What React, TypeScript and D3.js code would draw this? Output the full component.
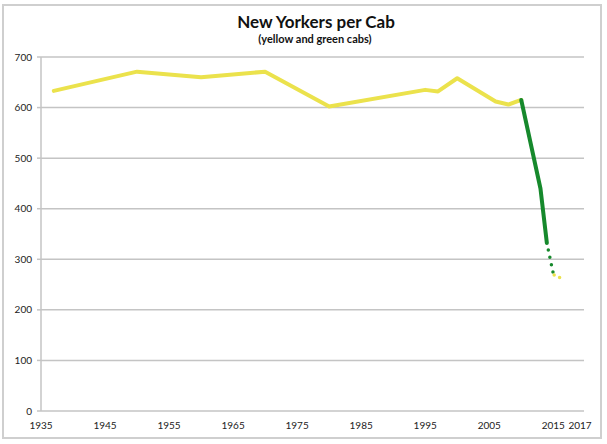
import * as d3 from "d3";

// yellow cabs only (people per cab)
const yellowYears = [1937, 1950, 1960, 1970, 1980, 1995, 1997, 2000, 2006, 2008, 2010];
const yellowValues = [633, 671, 660, 671, 602, 635, 632, 658, 612, 606, 615];

// yellow + green cabs
const greenYears = [2010, 2013, 2014];
const greenValues = [615, 440, 332];

// projections (dotted)
const greenProjYears = [2014, 2015];
const greenProjValues = [332, 272];
const yellowProjYears = [2015, 2016];
const yellowProjValues = [270, 264];

const xTicks = [1935, 1945, 1955, 1965, 1975, 1985, 1995, 2005, 2015];
const xEndLabel = "2017";
const yTicks = [0, 100, 200, 300, 400, 500, 600, 700];

const W = 607;
const H = 444;
const margin = { top: 57, right: 23, bottom: 33, left: 41 };

const YELLOW = "#ebe24c";
const GREEN = "#16892c";
const GRID = "#c4c4c4";
const FONT = "Lato, 'Open Sans', sans-serif";

export default function App() {
  const x = d3
    .scaleLinear()
    .domain([1935, 2019.8])
    .range([margin.left, W - margin.right]);
  const y = d3
    .scaleLinear()
    .domain([0, 700])
    .range([H - margin.bottom, margin.top]);

  const line = d3
    .line<[number, number]>()
    .x((d) => x(d[0]))
    .y((d) => y(d[1]));

  const zip = (a: number[], b: number[]) => a.map((v, i) => [v, b[i]] as [number, number]);

  const [x0, x1] = x.range();

  return (
    <div style={{ position: "absolute", left: 0, top: 0 }}>
      <svg width={W} height={H} style={{ display: "block", background: "#fff" }}>
        <rect x={3} y={5} width={598} height={433} fill="#fff" stroke="#cfcfcf" strokeWidth={2} />

        <text x={316} y={28} textAnchor="middle" fontFamily={FONT} fontWeight="bold" fontSize={17} fill="#111">
          New Yorkers per Cab
        </text>
        <text x={315} y={43} textAnchor="middle" fontFamily={FONT} fontWeight="bold" fontSize={11} fill="#111">
          (yellow and green cabs)
        </text>

        {yTicks.map((t) => (
          <g key={t}>
            {t > 0 && <line x1={x0} x2={x1} y1={y(t)} y2={y(t)} stroke={GRID} strokeWidth={1.5} />}
            <line x1={x0 - 4} x2={x0} y1={y(t)} y2={y(t)} stroke={GRID} strokeWidth={1.5} />
            <text x={x0 - 9} y={y(t) + 3.5} textAnchor="end" fontFamily={FONT} fontSize={10} fill="#222">
              {t}
            </text>
          </g>
        ))}
        <line x1={x0} x2={x0} y1={y(700)} y2={y(0)} stroke={GRID} strokeWidth={1.5} />
        <line x1={x0} x2={x1} y1={y(0)} y2={y(0)} stroke={GRID} strokeWidth={1.5} />

        {xTicks.map((t) => (
          <text key={t} x={x(t)} y={y(0) + 18} textAnchor="middle" fontFamily={FONT} fontSize={10} fill="#222">
            {t}
          </text>
        ))}
        <text x={x1 - 4} y={y(0) + 18} textAnchor="middle" fontFamily={FONT} fontSize={10} fill="#222">
          {xEndLabel}
        </text>

        <path
          d={line(zip(yellowYears, yellowValues)) ?? ""}
          fill="none"
          stroke={YELLOW}
          strokeWidth={4}
          strokeLinejoin="round"
          strokeLinecap="round"
        />
        <path
          d={line(zip(greenYears, greenValues)) ?? ""}
          fill="none"
          stroke={GREEN}
          strokeWidth={4}
          strokeLinejoin="round"
          strokeLinecap="round"
        />
        <path
          d={line(zip(greenProjYears, greenProjValues)) ?? ""}
          fill="none"
          stroke={GREEN}
          strokeWidth={3.5}
          strokeDasharray="0 7.5"
          strokeDashoffset={-7}
          strokeLinecap="round"
        />
        <path
          d={line(zip(yellowProjYears, yellowProjValues)) ?? ""}
          fill="none"
          stroke={YELLOW}
          strokeWidth={3.5}
          strokeDasharray="0 6"
          strokeDashoffset={-1}
          strokeLinecap="round"
        />
      </svg>
    </div>
  );
}
